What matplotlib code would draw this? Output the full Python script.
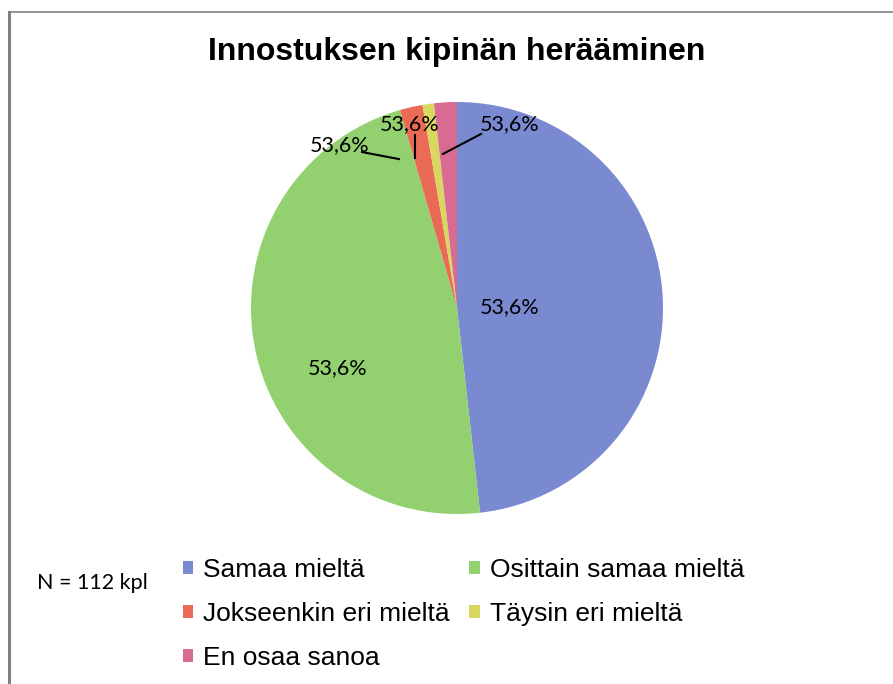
import matplotlib
matplotlib.use("Agg")
from matplotlib import pyplot as plt
from matplotlib.lines import Line2D

# datos
categorias = ["Samaa mieltä", "Osittain samaa mieltä", "Jokseenkin eri mieltä",
              "Täysin eri mieltä", "En osaa sanoa"]
valores = [54, 53, 2, 1, 2]
etiquetas = ["53,6%", "53,6%", "53,6%", "53,6%", "53,6%"]
colores = ["#7A8AD0", "#92D070", "#EA6B55", "#D8D75F", "#D86B92"]
titulo = "Innostuksen kipinän herääminen"
nota = "N = 112 kpl"

W, H = 893, 684
fig = plt.figure(figsize=(W / 100, H / 100), dpi=100)

# marco gris
fig.add_artist(Line2D([9 / W, 9 / W], [0, 1 - 12 / H], color="#808080", lw=2.2,
                      transform=fig.transFigure))
fig.add_artist(Line2D([9 / W, 1], [1 - 12 / H, 1 - 12 / H], color="#808080", lw=1.2,
                      transform=fig.transFigure))

# ejes de la tarta: centro (457,308), radio 206 px
cx, cy, r = 457, 308, 206
ax = fig.add_axes([(cx - r) / W, (H - cy - r) / H, 2 * r / W, 2 * r / H])
wedges, _ = ax.pie(valores, colors=colores, startangle=90, counterclock=False,
                   wedgeprops=dict(linewidth=0))
ax.set_xlim(-1, 1)
ax.set_ylim(-1, 1)

fuente_lbl = dict(family="Lato", fontsize=15.5, color="black")
# etiquetas dentro
ax.text(0.257, 0.005, etiquetas[0], ha="center", va="center", **fuente_lbl)
ax.text(-0.578, -0.291, etiquetas[1], ha="center", va="center", **fuente_lbl)
# etiquetas con lineas guia
ax.text(-0.568, 0.791, etiquetas[2], ha="center", va="center", **fuente_lbl)
ax.plot([-0.461, -0.282], [0.757, 0.723], color="black", lw=1.5)
ax.text(-0.228, 0.893, etiquetas[3], ha="center", va="center", **fuente_lbl)
ax.plot([-0.204, -0.204], [0.840, 0.728], color="black", lw=1.5)
ax.text(0.257, 0.893, etiquetas[4], ha="center", va="center", **fuente_lbl)
ax.plot([0.117, -0.068], [0.845, 0.748], color="black", lw=1.5)

fig.text(457 / W, 1 - 52 / H, titulo, ha="center", va="center",
         family="Liberation Sans", fontweight="bold", fontsize=23)
fig.text(92 / W, 1 - 583 / H, nota, ha="center", va="center",
         family="Lato", fontsize=15.5)

# leyenda en orden por filas
orden = [0, 2, 4, 1, 3]
leg = fig.legend([wedges[i] for i in orden], [categorias[i] for i in orden],
                 ncol=2, loc="upper left", bbox_to_anchor=(183 / W, 1 - 558 / H),
                 frameon=False, prop=dict(family="Liberation Sans", size=19),
                 handlelength=0.38, handleheight=0.38, handletextpad=0.38,
                 columnspacing=0.75, labelspacing=0.76, borderpad=0, borderaxespad=0)

fig.savefig("out.png", dpi=100)
